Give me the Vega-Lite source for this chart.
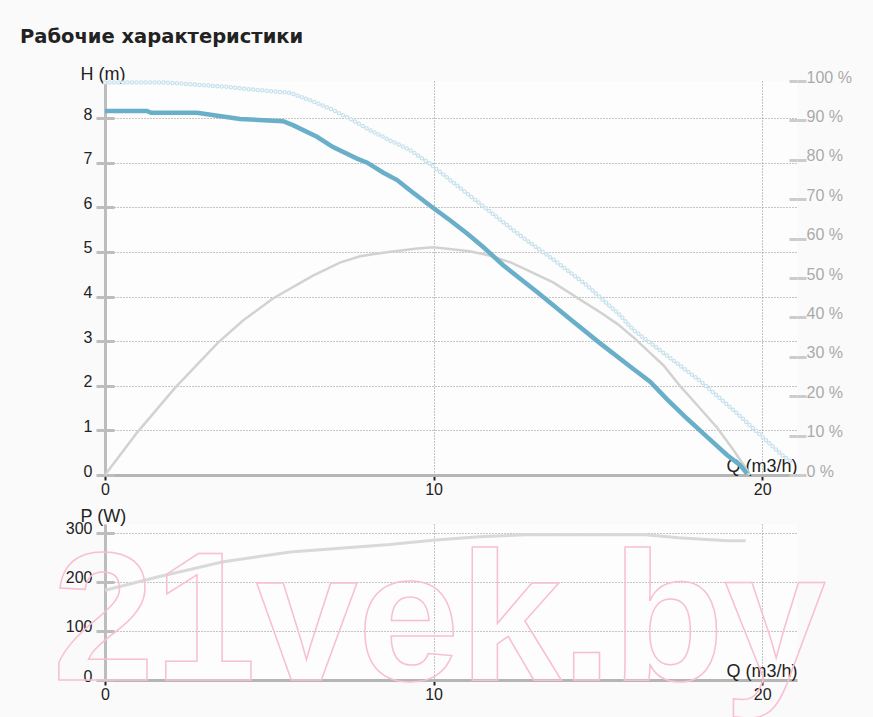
{
  "$schema": "https://vega.github.io/schema/vega-lite/v6.json",
  "background": "#fafafa",
  "padding": {"left": 20, "top": 26, "right": 30, "bottom": 0},
  "title": {"text": "Рабочие характеристики", "anchor": "start", "frame": "group", "dx": -85, "fontSize": 19.5, "font": "DejaVu Sans", "fontWeight": "bold", "color": "#222222", "offset": 18},
  "config": {
    "view": {"stroke": null, "fill": "#fdfdfd"},
    "font": "Liberation Sans",
    "axis": {"labelFont": "Liberation Sans", "titleFont": "Liberation Sans", "titleFontWeight": "normal", "labelFontSize": 16, "titleFontSize": 18, "labelColor": "#222222", "titleColor": "#222222", "gridDash": [1, 2], "gridColor": "#8c8c8c", "gridWidth": 1, "labelFlush": false}
  },
  "datasets": {
    "head": [
      {"q": 0, "h": 8.16}, {"q": 1.28, "h": 8.16}, {"q": 1.4, "h": 8.12}, {"q": 2.8, "h": 8.12},
      {"q": 4.11, "h": 7.98}, {"q": 5.42, "h": 7.93}, {"q": 5.72, "h": 7.84}, {"q": 6.45, "h": 7.58},
      {"q": 6.94, "h": 7.35}, {"q": 7.67, "h": 7.09}, {"q": 7.98, "h": 7.0}, {"q": 8.46, "h": 6.78},
      {"q": 8.89, "h": 6.61}, {"q": 9.28, "h": 6.38}, {"q": 9.98, "h": 5.99}, {"q": 10.5, "h": 5.71},
      {"q": 11.02, "h": 5.41}, {"q": 11.51, "h": 5.11}, {"q": 12.12, "h": 4.7}, {"q": 13.15, "h": 4.1},
      {"q": 14.2, "h": 3.47}, {"q": 15.07, "h": 2.95}, {"q": 16.07, "h": 2.38}, {"q": 16.59, "h": 2.09},
      {"q": 17.1, "h": 1.7}, {"q": 17.72, "h": 1.26}, {"q": 18.33, "h": 0.85}, {"q": 18.93, "h": 0.45},
      {"q": 19.33, "h": 0.22}, {"q": 19.54, "h": 0.03}
    ],
    "efficiency": [
      {"q": 0, "e": 0}, {"q": 0.97, "e": 10.7}, {"q": 2.13, "e": 22.1}, {"q": 3.44, "e": 33.6},
      {"q": 4.2, "e": 39.2}, {"q": 5.11, "e": 44.8}, {"q": 6.33, "e": 50.6}, {"q": 7.15, "e": 53.9},
      {"q": 7.76, "e": 55.5}, {"q": 8.46, "e": 56.4}, {"q": 9.5, "e": 57.5}, {"q": 10, "e": 57.8},
      {"q": 11.1, "e": 56.8}, {"q": 11.7, "e": 55.7}, {"q": 12.33, "e": 54.0}, {"q": 13.64, "e": 48.9},
      {"q": 14.46, "e": 44.5}, {"q": 15.07, "e": 41.3}, {"q": 15.6, "e": 38.3}, {"q": 16.1, "e": 34.8},
      {"q": 16.59, "e": 31.0}, {"q": 17.0, "e": 27.8}, {"q": 17.5, "e": 22.6}, {"q": 18.1, "e": 17.0},
      {"q": 18.63, "e": 12.0}, {"q": 19.12, "e": 6.4}, {"q": 19.54, "e": 1.3}, {"q": 19.62, "e": 0}
    ],
    "dotted": [
      {"q": 0, "d": 99.6}, {"q": 1.89, "d": 99.6}, {"q": 2.89, "d": 99.0}, {"q": 3.71, "d": 98.5},
      {"q": 4.41, "d": 97.9}, {"q": 5.63, "d": 97.0}, {"q": 6.24, "d": 95.1}, {"q": 6.85, "d": 93.0},
      {"q": 7.46, "d": 90.4}, {"q": 8.07, "d": 87.5}, {"q": 8.68, "d": 84.9}, {"q": 9.28, "d": 82.5},
      {"q": 9.89, "d": 79.0}, {"q": 10.59, "d": 74.3}, {"q": 11.63, "d": 67.4}, {"q": 12.63, "d": 60.8},
      {"q": 13.64, "d": 54.7}, {"q": 14.67, "d": 48.1}, {"q": 15.68, "d": 40.5}, {"q": 16.07, "d": 36.9},
      {"q": 17.1, "d": 30.3}, {"q": 18.11, "d": 23.9}, {"q": 19.12, "d": 16.5}, {"q": 19.94, "d": 10.2},
      {"q": 20.6, "d": 5.1}, {"q": 20.85, "d": 3.6}
    ],
    "power": [
      {"q": 0, "p": 183}, {"q": 1.6, "p": 210}, {"q": 3.6, "p": 241}, {"q": 5.64, "p": 261},
      {"q": 8.67, "p": 276}, {"q": 9.97, "p": 285}, {"q": 11.4, "p": 292}, {"q": 12.8, "p": 296},
      {"q": 16.45, "p": 296}, {"q": 17.45, "p": 290}, {"q": 18.45, "p": 286}, {"q": 18.97, "p": 284},
      {"q": 19.5, "p": 284}
    ],
    "watermark": [{"label": "21vek.by"}]
  },
  "spacing": 49,
  "bounds": "flush",
  "vconcat": [
    {
      "width": 692,
      "height": 394,
      "resolve": {"scale": {"y": "independent"}, "axis": {"y": "independent"}},
      "layer": [
        {
          "data": {"name": "dotted"},
          "mark": {"type": "line", "color": "#c8e2ed", "strokeWidth": 4.5, "strokeDash": [0, 4.5], "strokeCap": "round"},
          "encoding": {
            "x": {"field": "q", "type": "quantitative", "scale": {"domain": [0, 21.06], "nice": false},
                  "axis": {"values": [0, 10, 20], "title": "Q (m3/h)", "titleAlign": "right", "titleAnchor": null, "titleX": 692, "titleY": -4, "titleBaseline": "alphabetic",
                           "labelPadding": 1, "tickColor": "#222222", "tickSize": 5, "tickWidth": 2, "domainColor": "#b5b5b5", "domainWidth": 3, "grid": true}},
            "y": {"field": "d", "type": "quantitative", "scale": {"domain": [0, 100], "nice": false}, "axis": null}
          }
        },
        {
          "data": {"name": "dotted"},
          "mark": {"type": "line", "color": "#fdfdfd", "strokeWidth": 2, "strokeDash": [0, 4.5], "strokeCap": "round"},
          "encoding": {
            "x": {"field": "q", "type": "quantitative"},
            "y": {"field": "d", "type": "quantitative", "scale": {"domain": [0, 100], "nice": false}, "axis": null}
          }
        },
        {
          "data": {"name": "efficiency"},
          "mark": {"type": "line", "color": "#d2d2d2", "strokeWidth": 2.5},
          "encoding": {
            "x": {"field": "q", "type": "quantitative"},
            "y": {"field": "e", "type": "quantitative", "scale": {"domain": [0, 100], "nice": false},
                  "axis": {"orient": "right", "values": [0, 10, 20, 30, 40, 50, 60, 70, 80, 90, 100], "labelExpr": "datum.value + ' %'", "title": null,
                           "labelColor": "#aaaaaa", "labelPadding": 0, "labelOffset": -4, "tickColor": "#cccccc", "tickSize": 9, "tickWidth": 3, "domain": false, "grid": false}}
          }
        },
        {
          "data": {"name": "head"},
          "mark": {"type": "line", "color": "#6aafc9", "strokeWidth": 4.5},
          "encoding": {
            "x": {"field": "q", "type": "quantitative"},
            "y": {"field": "h", "type": "quantitative", "scale": {"domain": [0, 8.83], "nice": false},
                  "axis": {"orient": "left", "values": [0, 1, 2, 3, 4, 5, 6, 7, 8], "title": "H (m)", "titleAngle": 0, "titleAlign": "left", "titleBaseline": "alphabetic", "titleX": -25, "titleY": -2,
                           "labelPadding": 4, "labelOffset": -4, "tickColor": "#bdbdbd", "tickSize": 9, "tickWidth": 3, "domainColor": "#bdbdbd", "domainWidth": 3, "grid": true}}
          }
        },
        {
          "mark": {"type": "rule", "opacity": 0},
          "encoding": {
            "y": {"datum": 0, "type": "quantitative", "scale": {"domain": [0, 8.83], "nice": false},
                  "axis": {"orient": "left", "offset": -9, "values": [0, 1, 2, 3, 4, 5, 6, 7, 8], "title": null, "labels": false, "domain": false, "grid": false, "tickColor": "#bdbdbd", "tickSize": 9, "tickWidth": 3}}
          }
        },
        {
          "mark": {"type": "rule", "opacity": 0},
          "encoding": {
            "y": {"datum": 0, "type": "quantitative", "scale": {"domain": [0, 100], "nice": false},
                  "axis": {"orient": "right", "offset": -8, "values": [0, 10, 20, 30, 40, 50, 60, 70, 80, 90, 100], "title": null, "labels": false, "domain": false, "grid": false, "tickColor": "#cccccc", "tickSize": 8, "tickWidth": 3}}
          }
        }
      ]
    },
    {
      "width": 692,
      "height": 156,
      "resolve": {"axis": {"y": "independent"}},
      "layer": [
        {
          "data": {"name": "power"},
          "mark": {"type": "line", "color": "#d9d9d9", "strokeWidth": 3},
          "encoding": {
            "x": {"field": "q", "type": "quantitative", "scale": {"domain": [0, 21.06], "nice": false},
                  "axis": {"values": [0, 10, 20], "title": "Q (m3/h)", "titleAlign": "right", "titleAnchor": null, "titleX": 692, "titleY": -4, "titleBaseline": "alphabetic",
                           "labelPadding": 1, "tickColor": "#222222", "tickSize": 5, "tickWidth": 2, "domainColor": "#b5b5b5", "domainWidth": 3, "grid": true}},
            "y": {"field": "p", "type": "quantitative", "scale": {"domain": [0, 318], "nice": false},
                  "axis": {"orient": "left", "values": [0, 100, 200, 300], "title": "P (W)", "titleAngle": 0, "titleAlign": "left", "titleBaseline": "alphabetic", "titleX": -25, "titleY": -3,
                           "labelPadding": 4, "labelOffset": -4, "tickColor": "#bdbdbd", "tickSize": 9, "tickWidth": 3, "domainColor": "#bdbdbd", "domainWidth": 3, "grid": true}}
          }
        },
        {
          "mark": {"type": "rule", "opacity": 0},
          "encoding": {
            "y": {"datum": 0, "type": "quantitative",
                  "axis": {"orient": "left", "offset": -9, "values": [0, 100, 200, 300], "title": null, "labels": false, "domain": false, "grid": false, "tickColor": "#bdbdbd", "tickSize": 9, "tickWidth": 3}}
          }
        },
        {
          "data": {"name": "watermark"},
          "mark": {"type": "text", "font": "Liberation Sans", "fontWeight": "bold", "fontSize": 183, "align": "left", "baseline": "alphabetic", "fill": "transparent", "stroke": "#f8bfd1", "strokeWidth": 1.5},
          "encoding": {
            "text": {"field": "label"},
            "x": {"datum": -1.6, "type": "quantitative"},
            "y": {"datum": 0, "type": "quantitative", "axis": null}
          }
        }
      ]
    }
  ]
}
